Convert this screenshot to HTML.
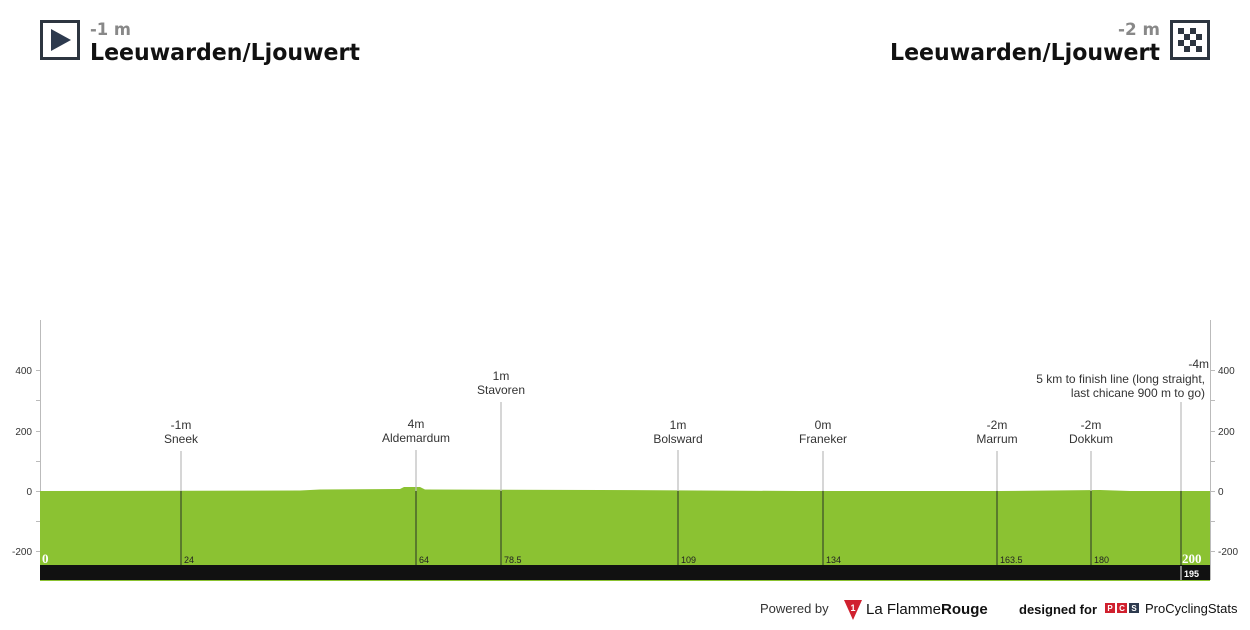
<!DOCTYPE html>
<html><head><meta charset="utf-8"><style>
body{margin:0;width:1250px;height:625px;background:#fff;overflow:hidden;font-family:"Liberation Sans",sans-serif}
</style></head><body>
<svg width="1250" height="625" xmlns="http://www.w3.org/2000/svg" font-family="Liberation Sans, sans-serif">
<rect x="41.5" y="21.5" width="37" height="37" fill="#fff" stroke="#2d3540" stroke-width="3"/>
<polygon points="51,29 51,51 71,40" fill="#2d3a4e"/>
<text x="90" y="35" font-size="17" font-weight="bold" fill="#888" font-family="DejaVu Sans, sans-serif" textLength="41" lengthAdjust="spacingAndGlyphs">-1 m</text>
<text x="90" y="60" font-size="23" font-weight="bold" fill="#111" font-family="DejaVu Sans, sans-serif" textLength="270" lengthAdjust="spacingAndGlyphs">Leeuwarden/Ljouwert</text>
<text x="1160" y="35" font-size="17" font-weight="bold" fill="#888" text-anchor="end" font-family="DejaVu Sans, sans-serif" textLength="42" lengthAdjust="spacingAndGlyphs">-2 m</text>
<text x="1160" y="60" font-size="23" font-weight="bold" fill="#111" text-anchor="end" font-family="DejaVu Sans, sans-serif" textLength="270" lengthAdjust="spacingAndGlyphs">Leeuwarden/Ljouwert</text>
<rect x="1171.5" y="21.5" width="37" height="37" fill="#fff" stroke="#2d3540" stroke-width="3"/>
<g fill="#2d3540">
<rect x="1178" y="28" width="6" height="6"/><rect x="1190" y="28" width="6" height="6"/>
<rect x="1184" y="34" width="6" height="6"/><rect x="1196" y="34" width="6" height="6"/>
<rect x="1178" y="40" width="6" height="6"/><rect x="1190" y="40" width="6" height="6"/>
<rect x="1184" y="46" width="6" height="6"/><rect x="1196" y="46" width="6" height="6"/>
</g>
<g stroke="#bbb" stroke-width="1">
<line x1="40.5" y1="320" x2="40.5" y2="580"/><line x1="1210.5" y1="320" x2="1210.5" y2="580"/>
<line x1="36" y1="370.5" x2="40" y2="370.5"/><line x1="36" y1="400.5" x2="40" y2="400.5"/><line x1="36" y1="431.5" x2="40" y2="431.5"/><line x1="36" y1="461.5" x2="40" y2="461.5"/><line x1="36" y1="491.5" x2="40" y2="491.5"/><line x1="36" y1="521.5" x2="40" y2="521.5"/><line x1="36" y1="551.5" x2="40" y2="551.5"/>
<line x1="1211" y1="370.5" x2="1215" y2="370.5"/><line x1="1211" y1="400.5" x2="1215" y2="400.5"/><line x1="1211" y1="431.5" x2="1215" y2="431.5"/><line x1="1211" y1="461.5" x2="1215" y2="461.5"/><line x1="1211" y1="491.5" x2="1215" y2="491.5"/><line x1="1211" y1="521.5" x2="1215" y2="521.5"/><line x1="1211" y1="551.5" x2="1215" y2="551.5"/>
</g>
<g font-size="10" fill="#333">
<text x="32" y="374" text-anchor="end">400</text><text x="32" y="435" text-anchor="end">200</text><text x="32" y="495" text-anchor="end">0</text><text x="32" y="555" text-anchor="end">-200</text>
<text x="1218" y="374">400</text><text x="1218" y="435">200</text><text x="1218" y="495">0</text><text x="1218" y="555">-200</text>
</g>
<path d="M40,491 L300,490.5 L320,489.5 L400,489 L404,487 L420,487 L425,489.5 L600,490 L800,491 L1000,491 L1100,490 L1130,491 L1210,491 L1210,565 L40,565 Z" fill="#8bc232"/>
<rect x="40" y="565" width="1170" height="16" fill="#111"/>
<rect x="40" y="580" width="1170" height="1" fill="#8bc232"/>
<g stroke-width="1.2">
<g stroke="#bbb">
<line x1="181" y1="451" x2="181" y2="491"/><line x1="416" y1="450" x2="416" y2="491"/><line x1="501" y1="402" x2="501" y2="491"/><line x1="678" y1="450" x2="678" y2="491"/><line x1="823" y1="451" x2="823" y2="491"/><line x1="997" y1="451" x2="997" y2="491"/><line x1="1091" y1="451" x2="1091" y2="491"/><line x1="1181" y1="402" x2="1181" y2="491"/>
</g>
<g stroke="#3a4a28">
<line x1="181" y1="491" x2="181" y2="565"/><line x1="416" y1="491" x2="416" y2="565"/><line x1="501" y1="491" x2="501" y2="565"/><line x1="678" y1="491" x2="678" y2="565"/><line x1="823" y1="491" x2="823" y2="565"/><line x1="997" y1="491" x2="997" y2="565"/><line x1="1091" y1="491" x2="1091" y2="565"/><line x1="1181" y1="491" x2="1181" y2="565"/>
</g>
<line x1="1181" y1="566" x2="1181" y2="580" stroke="#ccc"/>
</g>
<g font-size="12" fill="#333" text-anchor="middle">
<text x="181" y="429">-1m</text><text x="181" y="443">Sneek</text>
<text x="416" y="428">4m</text><text x="416" y="442">Aldemardum</text>
<text x="501" y="380">1m</text><text x="501" y="394">Stavoren</text>
<text x="678" y="429">1m</text><text x="678" y="443">Bolsward</text>
<text x="823" y="429">0m</text><text x="823" y="443">Franeker</text>
<text x="997" y="429">-2m</text><text x="997" y="443">Marrum</text>
<text x="1091" y="429">-2m</text><text x="1091" y="443">Dokkum</text>
</g>
<g font-size="12" fill="#333" text-anchor="end">
<text x="1209" y="368">-4m</text>
<text x="1205" y="383">5 km to finish line (long straight,</text>
<text x="1205" y="397">last chicane 900 m to go)</text>
</g>
<g font-size="9" fill="#222">
<text x="184" y="563">24</text><text x="419" y="563">64</text><text x="504" y="563">78.5</text><text x="681" y="563">109</text><text x="826" y="563">134</text><text x="1000" y="563">163.5</text><text x="1094" y="563">180</text>
</g>
<text x="42" y="563" font-size="13" font-weight="bold" fill="#fff" font-family="Liberation Serif, serif">0</text>
<text x="1182" y="563" font-size="13" font-weight="bold" fill="#fff" font-family="Liberation Serif, serif">200</text>
<text x="1184" y="577" font-size="9" font-weight="bold" fill="#fff">195</text>
<text x="760" y="613" font-size="13" fill="#333">Powered by</text>
<polygon points="844,600 862,600 853,620" fill="#d0202e"/>
<text x="853" y="611" font-size="9" font-weight="bold" fill="#fff" text-anchor="middle">1</text>
<text x="866" y="614" font-size="15" fill="#111">La Flamme<tspan font-weight="bold">Rouge</tspan></text>
<text x="1019" y="614" font-size="13" font-weight="bold" fill="#111">designed for</text>
<rect x="1105" y="603" width="10" height="10" fill="#d0202e"/><rect x="1117" y="603" width="10" height="10" fill="#d0202e"/><rect x="1129" y="603" width="10" height="10" fill="#2d3a4e"/>
<g font-size="8" font-weight="bold" fill="#fff" text-anchor="middle"><text x="1110" y="611">P</text><text x="1122" y="611">C</text><text x="1134" y="611">S</text></g>
<text x="1145" y="613" font-size="13" fill="#111">ProCyclingStats</text>
</svg>
</body></html>
